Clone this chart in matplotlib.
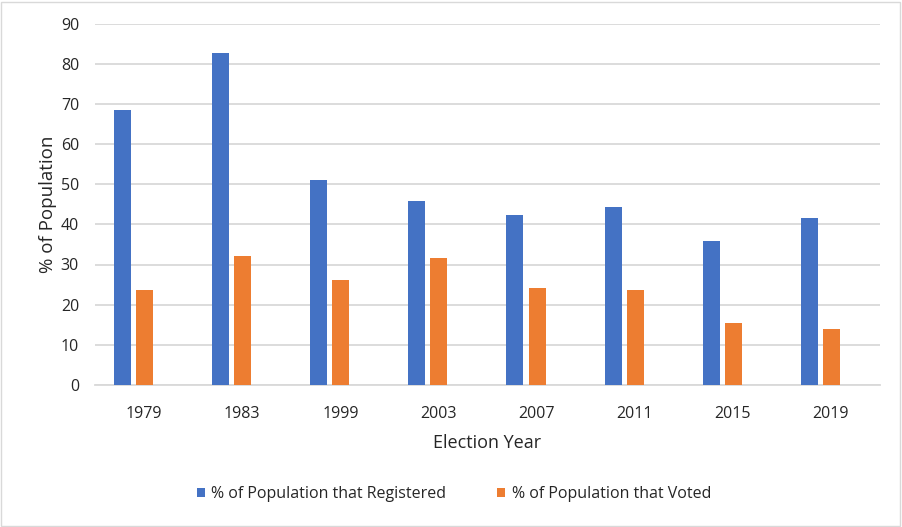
import numpy as np
import matplotlib
matplotlib.use("Agg")
from matplotlib import pyplot as plt
from matplotlib.patches import Rectangle

years = ["1979", "1983", "1999", "2003", "2007", "2011", "2015", "2019"]
registered = [68.5, 82.7, 51.1, 45.8, 42.4, 44.4, 35.9, 41.6]
voted = [23.7, 32.2, 26.2, 31.7, 24.2, 23.7, 15.5, 14.0]

blue = "#4472c4"
orange = "#ed7d31"
txt = "#262626"
plt.rcParams['font.family'] = ['Open Sans', 'DejaVu Sans']

fig = plt.figure(figsize=(9.02, 5.27), dpi=100)
fig.patches.append(Rectangle((0.001, 0.002), 0.997, 0.995, transform=fig.transFigure,
                             fill=False, edgecolor="#d9d9d9", linewidth=1))
ax = fig.add_axes([95/902, 1-385/527, 785/902, (385-23.5)/527])

x = np.arange(len(years))
w = 0.173
ax.bar(x - 0.22, registered, w, color=blue, label="% of Population that Registered", zorder=3)
ax.bar(x + 0.005, voted, w, color=orange, label="% of Population that Voted", zorder=3)

ax.set_xlim(-0.5, len(years) - 0.5)
ax.set_ylim(0, 90)
ax.set_yticks(range(0, 91, 10))
ax.set_xticks(x)
ax.set_xticklabels(years)
ax.grid(axis="y", color="#d9d9d9", linewidth=1.3, zorder=0)
for s in ["top", "right", "left"]:
    ax.spines[s].set_visible(False)
ax.spines["bottom"].set_color("#d9d9d9")
ax.spines["bottom"].set_linewidth(1.3)
ax.tick_params(axis="both", length=0, labelsize=11.5, labelcolor=txt)
ax.tick_params(axis="y", pad=11.5)
ax.tick_params(axis="x", pad=15)
ax.set_xlabel("Election Year", fontsize=13, color=txt, labelpad=9)
ax.set_ylabel("% of Population", fontsize=13.5, color=txt, labelpad=3)

fig.legend(loc="center", bbox_to_anchor=(454/902, 1-494/527), ncol=2, frameon=False,
           fontsize=11.5, labelcolor=txt, handlelength=0.5, handleheight=0.5,
           handletextpad=0.4, columnspacing=3.2)

fig.savefig("out.png", dpi=100)
